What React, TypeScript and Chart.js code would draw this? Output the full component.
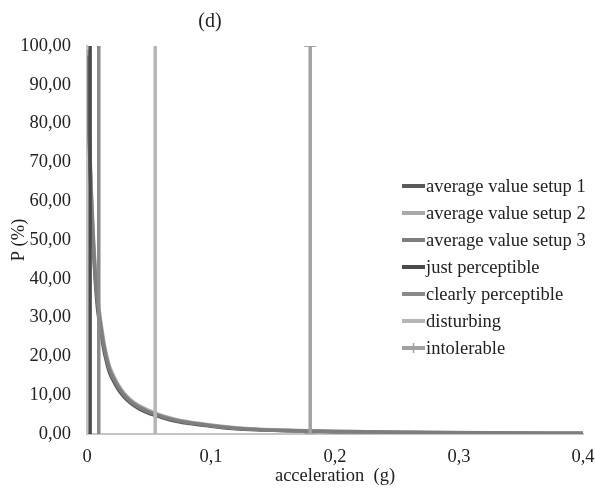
import { useEffect, useRef } from "react";
import { Chart, registerables } from "chart.js";
Chart.register(...registerables);

const chartTitle = "(d)";
const xTitle = "acceleration  (g)";
const yTitle = "P (%)";

const accel = [0.0005, 0.001, 0.002, 0.003, 0.004, 0.005, 0.006, 0.007, 0.008, 0.009, 0.01, 0.012, 0.014, 0.016, 0.018, 0.02, 0.025, 0.03, 0.035, 0.04, 0.045, 0.05, 0.06, 0.07, 0.08, 0.09, 0.1, 0.12, 0.14, 0.16, 0.18, 0.2, 0.25, 0.3, 0.35, 0.4];
const setup1 = [96, 87, 74, 64, 56, 49, 43, 38, 34, 31, 29, 24.8, 21, 18.3, 16, 14.5, 11.6, 9.5, 8.0, 6.9, 6.0, 5.3, 4.3, 3.4, 2.8, 2.35, 2.0, 1.35, 1.05, 0.85, 0.7, 0.6, 0.42, 0.3, 0.23, 0.18];
const setup2 = [99, 90, 77, 67, 59, 52, 46, 41, 37, 34, 31.5, 27, 23, 20, 17.6, 16, 12.8, 10.5, 8.9, 7.7, 6.8, 6.0, 4.8, 3.9, 3.25, 2.75, 2.3, 1.6, 1.2, 1.0, 0.85, 0.72, 0.5, 0.37, 0.28, 0.22];
const setup3 = [97.5, 88.5, 75.5, 65.5, 57.5, 50.5, 44.5, 39.5, 35.5, 32.5, 30.2, 25.8, 22, 19.1, 16.8, 15.2, 12.2, 10, 8.4, 7.3, 6.4, 5.65, 4.55, 3.65, 3.05, 2.55, 2.15, 1.47, 1.12, 0.92, 0.78, 0.66, 0.46, 0.34, 0.25, 0.2];
const setupNames = ["average value setup 1", "average value setup 2", "average value setup 3"];
const setupColors = ["#5a5a5a", "#a8a8a8", "#7e7e7e"];

const thresholdNames = ["just perceptible", "clearly perceptible", "disturbing", "intolerable"];
const thresholdValues = [0.0025, 0.0095, 0.055, 0.18];
const thresholdColors = ["#4a4a4a", "#8a8a8a", "#b6b6b6", "#a2a2a2"];
const pRange = [0, 100];

const xTickMax = 0.4;
const xTickStep = 0.1;
const yTickStep = 10;

const FONT = "'Liberation Serif', 'Times New Roman', serif";
const FS = 18.5;

function fmtComma(v: number, d: number) {
  return v.toFixed(d).replace(".", ",");
}

export default function App() {
  const ref = useRef<HTMLCanvasElement | null>(null);
  useEffect(() => {
    document.body.style.margin = "0";
    const canvas = ref.current;
    if (!canvas) return;

    const datasets: any[] = [];
    setupNames.forEach((name, i) => {
      const ys = [setup1, setup2, setup3][i];
      datasets.push({
        label: name,
        data: accel.map((x, j) => ({ x, y: ys[j] })),
        borderColor: setupColors[i],
        backgroundColor: setupColors[i],
        borderWidth: 3.5,
        pointRadius: 0,
        showLine: true,
        tension: 0.3,
        order: 20 - i,
      });
    });
    thresholdNames.forEach((name, i) => {
      const isCross = i === 3;
      datasets.push({
        label: name,
        data: pRange.map((y) => ({ x: thresholdValues[i], y })),
        borderColor: thresholdColors[i],
        backgroundColor: thresholdColors[i],
        borderWidth: 3.5,
        pointRadius: isCross ? 6 : 0,
        pointStyle: "cross",
        pointBorderWidth: 2,
        showLine: true,
        order: 10 - i,
      });
    });

    const legendPlugin = {
      id: "customLegend",
      afterDraw(chart: any) {
        const ctx = chart.ctx;
        const area = chart.chartArea;
        const x0 = area.right - 181;
        const y0 = 186;
        const step = 27;
        ctx.save();
        ctx.font = `${FS}px ${FONT}`;
        ctx.textBaseline = "middle";
        ctx.textAlign = "left";
        chart.data.datasets.forEach((ds: any, i: number) => {
          const y = y0 + i * step;
          ctx.strokeStyle = ds.borderColor;
          ctx.lineWidth = 4;
          ctx.beginPath();
          ctx.moveTo(x0, y);
          ctx.lineTo(x0 + 23, y);
          ctx.stroke();
          if (ds.pointRadius > 0) {
            ctx.lineWidth = 1.5;
            ctx.beginPath();
            ctx.moveTo(x0 + 11.5, y - 5);
            ctx.lineTo(x0 + 11.5, y + 5);
            ctx.stroke();
          }
          ctx.fillStyle = "#222";
          ctx.fillText(ds.label, x0 + 24, y + 1);
        });
        ctx.font = `20px ${FONT}`;
        ctx.textAlign = "center";
        ctx.fillText(chartTitle, area.left + (area.right - area.left) * 0.248, 22);
        ctx.restore();
      },
    };

    const chart = new Chart(canvas, {
      type: "scatter",
      data: { datasets },
      options: {
        responsive: false,
        animation: false,
        events: [],
        layout: { padding: { top: 46, right: 12, left: 0, bottom: 0 } },
        plugins: {
          legend: { display: false },
          tooltip: { enabled: false },
          title: { display: false },
        },
        scales: {
          x: {
            type: "linear",
            min: 0,
            max: xTickMax,
            grid: { display: false, drawTicks: false },
            border: { display: true, color: "#c4c4c4", width: 2 },
            ticks: {
              stepSize: xTickStep,
              padding: 12,
              color: "#222",
              font: { family: FONT, size: FS },
              callback: (v: any) => (Number(v) === 0 ? "0" : fmtComma(Number(v), 1)),
            },
            title: {
              display: true,
              text: xTitle,
              color: "#222",
              font: { family: FONT, size: FS },
              padding: { top: 0, bottom: 8 },
            },
            afterFit: (s: any) => {
              s.height = 61;
              s.paddingLeft = 0;
              s.paddingRight = 0;
            },
          },
          y: {
            type: "linear",
            min: 0,
            max: 100,
            grid: { display: false, drawTicks: false },
            border: { display: true, color: "#c4c4c4", width: 2 },
            ticks: {
              stepSize: yTickStep,
              padding: 16,
              color: "#222",
              font: { family: FONT, size: FS },
              callback: (v: any) => fmtComma(Number(v), 2),
            },
            title: {
              display: true,
              text: yTitle,
              color: "#222",
              font: { family: FONT, size: FS },
              padding: { top: 8, bottom: 0 },
            },
            afterFit: (s: any) => {
              s.width = 87;
              s.paddingTop = 0;
              s.paddingBottom = 0;
            },
          },
        },
      },
      plugins: [legendPlugin],
    });
    return () => chart.destroy();
  }, []);

  return (
    <div style={{ width: 595, height: 495, background: "#fff" }}>
      <canvas ref={ref} width={595} height={495} />
    </div>
  );
}
